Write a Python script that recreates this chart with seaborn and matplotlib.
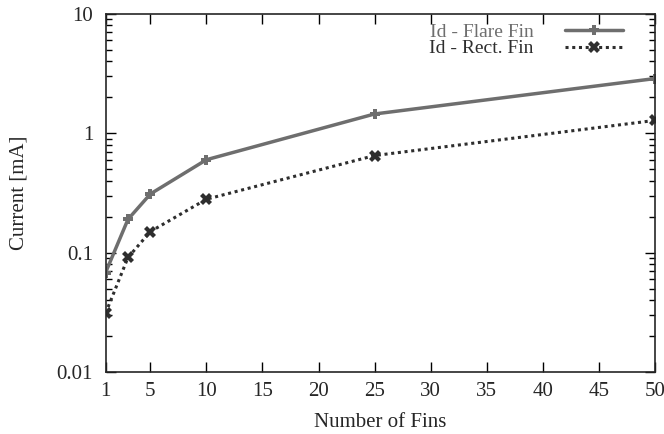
import pandas as pd
import matplotlib
matplotlib.use('Agg')
import matplotlib.pyplot as plt
from matplotlib.ticker import LogLocator, FixedLocator, NullFormatter
import seaborn as sns

# values
fins = [1, 3, 5, 10, 25, 50]
flare_fin = [0.068, 0.19, 0.31, 0.60, 1.45, 2.87]
rect_fin = [0.031, 0.091, 0.15, 0.28, 0.65, 1.28]
x_ticks = [1, 5, 10, 15, 20, 25, 30, 35, 40, 45, 50]

df = pd.DataFrame({'fins': fins * 2,
                   'current': flare_fin + rect_fin,
                   'series': ['Id - Flare Fin'] * 6 + ['Id - Rect. Fin'] * 6})

sns.set_style('ticks')
plt.rcParams['font.family'] = ['Liberation Serif', 'DejaVu Serif']
plt.rcParams['xtick.direction'] = 'in'
plt.rcParams['ytick.direction'] = 'in'

fig = plt.figure(figsize=(6.64, 4.34), dpi=100)
ax = fig.add_axes([0.159, 0.143, 0.827, 0.825])

flare = df[df['series'] == 'Id - Flare Fin']
rect = df[df['series'] == 'Id - Rect. Fin']
sns.lineplot(x='fins', y='current', data=flare, ax=ax, color='#6e6e6e',
             linewidth=2.5, marker='P', markersize=7, markeredgewidth=0,
             label='Id - Flare Fin')
sns.lineplot(x='fins', y='current', data=rect, ax=ax, color='#2e2e2e',
             linewidth=2.2, linestyle=(0, (1, 1.2)), marker='X', markersize=9,
             markeredgewidth=0, label='Id - Rect. Fin')

ax.set_yscale('log')
ax.set_xlim(1, 50)
ax.set_ylim(0.01, 10)
ax.xaxis.set_major_locator(FixedLocator(x_ticks))
ax.yaxis.set_minor_locator(LogLocator(base=10, subs=range(2, 10), numticks=20))
ax.yaxis.set_minor_formatter(NullFormatter())
ax.set_yticks([0.01, 0.1, 1, 10])
ax.set_yticklabels(['0.01', '0.1', '1', '10'])
ax.tick_params(which='both', top=True, right=True, labelsize=15, color='black')
ax.tick_params(which='major', length=7, width=1)
ax.tick_params(axis='x', which='major', pad=7)
ax.tick_params(axis='y', which='major', pad=9)
ax.tick_params(which='minor', length=4, width=1)
for s in ax.spines.values():
    s.set_linewidth(1.2)

ax.set_xlabel('Number of Fins', fontsize=15, labelpad=9)
ax.set_ylabel('Current [mA]', fontsize=15, labelpad=20)

leg = ax.legend(loc='upper right', bbox_to_anchor=(0.967, 1.012),
                frameon=False, markerfirst=False, fontsize=14,
                handlelength=3.0, handletextpad=1.6, borderaxespad=0.3,
                labelspacing=-0.05)
leg.get_texts()[0].set_color('#6e6e6e')
leg.get_texts()[1].set_color('#2e2e2e')

fig.savefig('out.png', dpi=100)
